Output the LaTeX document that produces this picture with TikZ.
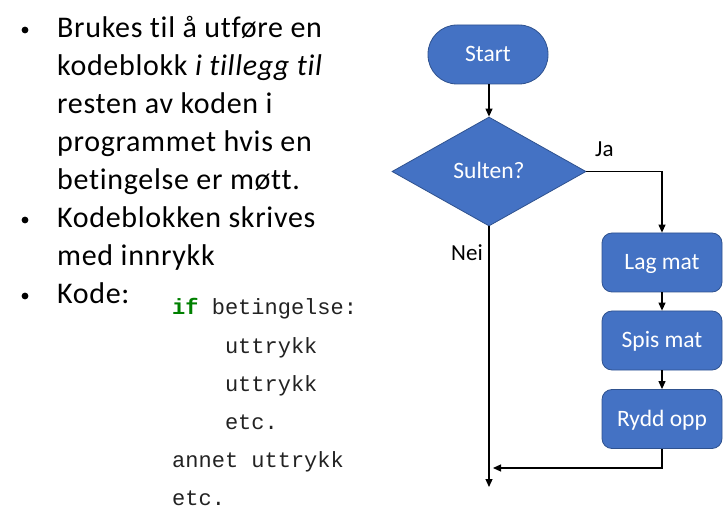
\documentclass[tikz,border=0pt]{standalone}
\usepackage{fontspec}
\setmainfont{Carlito}[Ligatures={NoCommon}]
\newfontfamily\bodyfont{Carlito}[LetterSpace=2.3,Ligatures={NoCommon}]
\newfontfamily\codefont{Liberation Mono}
\usetikzlibrary{shapes.geometric,arrows.meta}
\definecolor{flowblue}{HTML}{4472C4}
\definecolor{flowedge}{HTML}{2F528F}
\definecolor{codegreen}{HTML}{008000}
\definecolor{codegray}{HTML}{222222}
\tikzset{
  bodytext/.style={anchor=base west,inner sep=0pt,font=\bodyfont\fontsize{30}{36}\selectfont},
  bulletdot/.style={circle,fill=black,inner sep=0pt,minimum size=6.8pt},
  codetext/.style={anchor=base west,inner sep=0pt,text=codegray,font=\codefont\fontsize{22}{26}\selectfont},
  flowfont/.style={text=white,font=\fontsize{23.5}{28}\selectfont,text height=14.9pt,text depth=0pt},
  termbox/.style={flowfont,draw=flowedge,fill=flowblue,line width=0.8pt,rounded corners=29pt,minimum width=120pt,minimum height=59pt,inner sep=0pt},
  procbox/.style={flowfont,draw=flowedge,fill=flowblue,line width=0.8pt,rounded corners=10pt,minimum width=120pt,minimum height=59pt,inner sep=0pt},
  decbox/.style={flowfont,diamond,aspect=1.78,draw=flowedge,fill=flowblue,line width=0.8pt,minimum width=194pt,minimum height=109pt,inner sep=0pt},
  lbl/.style={anchor=base west,inner sep=0pt,font=\fontsize{23}{28}\selectfont},
  conn/.style={line width=1.2pt,-{Triangle[length=8pt,width=7pt]}},
  plainconn/.style={line width=1.2pt}
}
\begin{document}
\begin{tikzpicture}[x=1pt,y=-1pt]
\useasboundingbox (0,0) rectangle (723,529);
% left text
\node[bulletdot] (b1) at (25,30) {};
\node[bodytext] (t1) at (57,38) {Brukes til å utføre en};
\node[bodytext] (t2) at (57,76) {kodeblokk \textit{i tillegg til}};
\node[bodytext] (t3) at (57,114) {resten av koden i};
\node[bodytext] (t4) at (57,152) {programmet hvis en};
\node[bodytext] (t5) at (57,190) {betingelse er møtt.};
\node[bulletdot] (b2) at (25,220) {};
\node[bodytext] (t6) at (57,228) {Kodeblokken skrives};
\node[bodytext] (t7) at (57,266) {med innrykk};
\node[bulletdot] (b3) at (25,296) {};
\node[bodytext] (t8) at (57,304) {Kode:};
% code
\node[codetext] (c1) at (172,315) {\textcolor{codegreen}{\bfseries if} betingelse:};
\node[codetext] (c2) at (224.8,353) {uttrykk};
\node[codetext] (c3) at (224.8,391) {uttrykk};
\node[codetext] (c4) at (224.8,429) {etc.};
\node[codetext] (c5) at (172,467) {annet uttrykk};
\node[codetext] (c6) at (172,505) {etc.};
% flowchart
\node[termbox] (start) at (488,54.5) {Start};
\node[decbox] (q) at (489,171.5) {Sulten?};
\node[procbox] (lag) at (662,262.5) {Lag mat};
\node[procbox] (spis) at (662,340.5) {Spis mat};
\node[procbox] (rydd) at (662,419) {Rydd opp};
\coordinate (join) at (493,468);
\coordinate (endpt) at (489,487);
\draw[conn] (start.south -| q.north) -- (q.north);
\draw[conn] (q.east) -| (lag.north);
\draw[conn] (lag) -- (spis);
\draw[conn] (spis) -- (rydd);
\draw[conn] (rydd.south) |- (join);
\draw[conn] (q.south) -- (endpt);
\node[lbl] (ja) at (595,157) {Ja};
\node[lbl] (nei) at (451,261) {Nei};
\end{tikzpicture}
\end{document}
